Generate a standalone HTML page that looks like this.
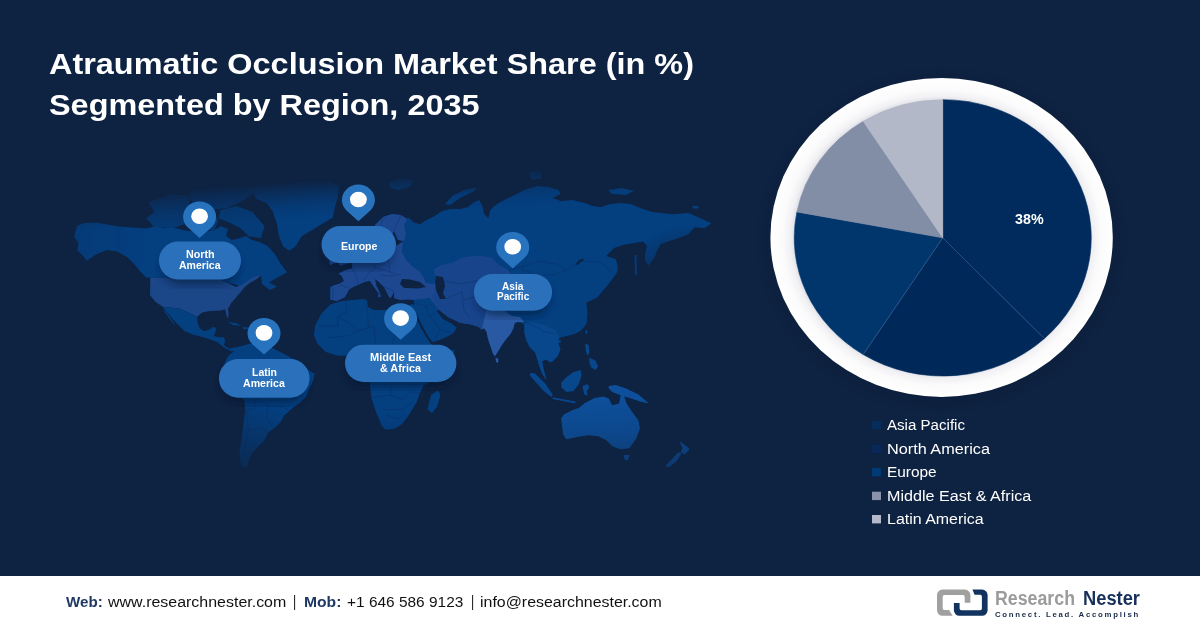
<!DOCTYPE html><html lang="en"><head><meta charset="utf-8"><title>Atraumatic Occlusion Market Share</title><style>
html,body{margin:0;padding:0;background:#0e2241}
#root{position:relative;width:1200px;height:628px;overflow:hidden;background:#0e2241;font-family:"Liberation Sans",sans-serif}
.t{position:absolute;white-space:nowrap;line-height:1;transform-origin:0 0;display:block}
svg{position:absolute;left:0;top:0}
</style></head><body><div id="root">
<svg width="1200" height="628" viewBox="0 0 1200 628">
<defs>
<linearGradient id="fade" x1="420" y1="170" x2="438.6" y2="480" gradientUnits="userSpaceOnUse">
<stop offset="0.010" stop-color="#fff" stop-opacity="0"/><stop offset="0.055" stop-color="#fff" stop-opacity="0.5"/>
<stop offset="0.095" stop-color="#fff" stop-opacity="0.85"/><stop offset="0.135" stop-color="#fff" stop-opacity="1"/>
<stop offset="0.78" stop-color="#fff" stop-opacity="1"/><stop offset="0.90" stop-color="#fff" stop-opacity="0.8"/><stop offset="1" stop-color="#fff" stop-opacity="0.5"/>
</linearGradient>
<radialGradient id="dimBL" cx="215" cy="520" r="130" gradientUnits="userSpaceOnUse"><stop offset="0" stop-color="#000" stop-opacity="0.9"/><stop offset="0.45" stop-color="#000" stop-opacity="0.6"/><stop offset="1" stop-color="#000" stop-opacity="0"/></radialGradient>
<radialGradient id="dimL" cx="40" cy="240" r="110" gradientUnits="userSpaceOnUse"><stop offset="0" stop-color="#000" stop-opacity="0.2"/><stop offset="1" stop-color="#000" stop-opacity="0"/></radialGradient>
<radialGradient id="dimR" cx="690" cy="300" r="75" gradientUnits="userSpaceOnUse"><stop offset="0" stop-color="#000" stop-opacity="0.8"/><stop offset="0.5" stop-color="#000" stop-opacity="0.6"/><stop offset="1" stop-color="#000" stop-opacity="0"/></radialGradient>
<mask id="mfade" maskUnits="userSpaceOnUse" x="0" y="0" width="1200" height="628"><rect x="0" y="170" width="1200" height="310" fill="url(#fade)"/><rect x="0" y="170" width="1200" height="310" fill="url(#dimBL)"/><rect x="0" y="170" width="1200" height="310" fill="url(#dimL)"/><rect x="0" y="170" width="1200" height="310" fill="url(#dimR)"/></mask>
<radialGradient id="ring" cx="0.5" cy="0.5" r="0.5"><stop offset="0.86" stop-color="#dfe0e6"/><stop offset="0.885" stop-color="#f1f1f4"/><stop offset="0.93" stop-color="#fbfbfc"/><stop offset="1" stop-color="#ffffff"/></radialGradient>
<filter id="psh" x="-20%" y="-30%" width="140%" height="190%"><feGaussianBlur in="SourceAlpha" stdDeviation="3.5"/><feOffset dx="0" dy="6"/><feComponentTransfer><feFuncA type="linear" slope="0.55"/></feComponentTransfer><feFlood flood-color="#050f28"/><feComposite in2="SourceAlpha" operator="in"/></filter>
<filter id="blur4"><feGaussianBlur stdDeviation="4"/></filter>
<filter id="blur6"><feGaussianBlur stdDeviation="6"/></filter>
</defs>
<g mask="url(#mfade)">
<path d="M75.8,230.1 L77.2,225.8 L84.4,222.9 L95.8,222.6 L107.3,224.6 L118.7,226.5 L136.0,227.8 L146.0,228.6 L154.0,226.6 L164.0,228.2 L172.0,227.2 L184.0,230.2 L200.0,232.2 L214.0,230.2 L221.0,226.2 L228.0,229.0 L226.0,236.0 L232.0,240.0 L240.0,238.0 L246.0,236.0 L252.0,240.0 L260.0,242.2 L268.0,246.3 L275.0,254.3 L281.0,264.3 L287.0,272.3 L276.0,278.4 L269.0,282.4 L277.0,286.4 L270.0,290.0 L262.0,284.0 L261.0,275.0 L256.0,279.0 L249.0,283.0 L240.0,286.0 L230.0,283.0 L220.0,279.0 L150.0,277.4 L146.0,277.4 L140.2,271.6 L134.5,264.5 L127.3,257.3 L117.3,251.6 L107.3,250.1 L95.8,254.4 L86.5,260.9 L84.4,257.3 L77.2,250.1 L78.6,243.0 L74.3,237.2Z" fill="#043f80"/>
<path d="M148.3,202.1 L172.4,194.1 L190.4,196.1 L188.4,210.1 L184.4,224.2 L172.4,228.2 L154.3,227.2 L146.3,218.2 L154.3,212.1Z" fill="#043f80" fill-opacity="0.8"/>
<path d="M188.4,192.1 L200.5,186.1 L220.5,180.0 L250.6,178.0 L262.7,184.0 L252.7,194.1 L240.6,202.1 L226.6,208.1 L208.5,210.1 L192.5,204.1Z" fill="#043f80" fill-opacity="0.8"/>
<path d="M220.5,210.1 L236.6,206.1 L252.7,212.1 L264.7,226.2 L260.7,238.2 L248.6,236.2 L240.6,228.2 L228.6,222.2 L218.5,218.2Z" fill="#043f80" fill-opacity="0.85"/>
<path d="M196.5,212.1 L212.5,211.1 L218.5,220.2 L214.5,230.2 L200.5,230.2 L194.5,222.2Z" fill="#043f80" fill-opacity="0.8"/>
<path d="M150.3,277.4 L150.0,295.2 L155.1,301.6 L162.7,306.7 L179.3,308.6 L188.2,312.4 L197.1,316.8 L202.2,312.4 L209.9,311.1 L221.3,310.5 L225.2,309.2 L226.3,314.9 L227.9,319.0 L228.6,314.0 L228.0,308.5 L231.5,302.8 L237.9,295.2 L244.3,287.5 L249.6,283.0 L256.7,279.0 L261.7,275.0 L253.0,277.0 L243.0,284.0 L236.0,287.0 L228.0,283.0 L220.0,279.0Z" fill="#1b4687"/>
<path d="M162.7,306.7 L179.3,308.6 L188.2,312.4 L197.1,316.8 L197.8,323.2 L199.7,328.3 L203.5,330.9 L209.9,329.6 L212.4,327.0 L216.2,327.7 L215.6,332.1 L213.7,336.0 L218.8,337.2 L223.9,337.2 L225.2,341.1 L223.9,344.9 L229.0,348.7 L234.1,347.4 L238.3,347.0 L241.7,346.1 L238.0,350.0 L231.5,351.5 L223.9,347.4 L217.5,342.3 L211.1,339.8 L203.5,337.2 L193.3,334.7 L184.4,330.9 L172.9,319.4Z" fill="#043f80"/>
<path d="M163.0,307.5 L167.8,314.3 L174.2,323.2 L175.0,325.5 L171.0,321.0 L165.0,312.5Z" fill="#043f80"/>
<path d="M228.0,322.0 L236.0,323.0 L241.0,326.0 L233.0,325.0Z" fill="#043f80"/>
<path d="M243.0,327.0 L249.0,327.5 L249.0,329.5 L243.0,329.0Z" fill="#043f80"/>
<path d="M238.3,347.0 L248.3,344.0 L260.3,342.0 L272.4,348.0 L284.4,354.0 L298.5,362.1 L308.5,370.1 L314.5,373.7 L313.5,380.1 L309.5,388.2 L306.5,396.2 L300.5,402.2 L292.4,408.2 L284.4,415.3 L280.4,422.3 L274.4,428.3 L268.4,432.3 L264.4,440.3 L258.3,446.4 L252.3,452.4 L248.3,460.4 L248.0,466.0 L244.3,468.0 L240.3,462.4 L239.3,452.4 L241.3,440.3 L243.3,424.3 L245.3,410.2 L244.3,400.2 L236.3,392.2 L226.2,376.1 L224.2,364.1 L228.2,356.1Z" fill="#043f80"/>
<path d="M252.1,190.7 L260.4,182.4 L281.0,178.3 L305.9,177.2 L330.7,180.3 L339.0,186.6 L337.9,196.9 L334.8,207.2 L332.8,217.6 L322.4,223.8 L312.1,230.0 L301.7,236.2 L295.5,246.6 L289.3,250.7 L283.1,246.6 L279.0,236.2 L276.9,223.8 L272.8,211.4 L266.6,203.1 L256.2,199.0Z" fill="#043f80"/>
<path d="M336.0,229.0 L345.0,227.0 L350.0,231.0 L344.0,235.0 L337.0,234.0Z" fill="#043f80"/>
<path d="M388.5,182.0 L400.0,178.0 L414.0,180.0 L410.0,187.0 L398.0,190.0 L390.0,188.0Z" fill="#043f80"/>
<path d="M445.2,204.1 L452.2,196.1 L464.2,190.1 L476.3,187.7 L474.3,191.1 L460.2,198.1 L450.2,205.1Z" fill="#043f80"/>
<path d="M528.0,172.0 L540.0,170.0 L542.0,178.0 L532.0,180.0Z" fill="#043f80"/>
<path d="M608.0,190.0 L622.0,188.0 L634.0,191.0 L626.0,195.0 L612.0,194.0Z" fill="#043f80"/>
<path d="M692.5,206.0 L698.5,206.0 L698.0,208.5 L693.0,208.5Z" fill="#043f80"/>
<path d="M330.4,287.0 L335.0,285.0 L339.0,284.0 L344.0,281.0 L341.8,276.0 L338.7,273.5 L344.8,270.5 L352.4,268.2 L352.0,264.0 L356.0,260.0 L362.0,256.0 L366.0,250.0 L370.0,256.0 L385.0,257.0 L392.0,254.0 L396.0,246.0 L404.0,241.0 L404.0,241.0 L398.0,240.0 L394.0,231.0 L391.0,236.0 L388.0,242.0 L385.0,248.0 L380.0,252.0 L376.0,250.0 L372.0,240.0 L370.0,232.0 L376.0,224.0 L383.0,217.0 L392.0,214.0 L401.0,215.0 L407.0,219.0 L408.0,217.2 L414.0,222.6 L420.1,224.2 L426.1,220.2 L434.1,216.2 L442.1,211.1 L450.2,209.1 L460.2,209.1 L468.2,207.1 L474.3,202.1 L479.3,200.1 L482.3,206.1 L484.3,214.2 L488.3,218.2 L490.3,210.1 L494.3,206.1 L500.3,202.1 L508.4,198.1 L516.4,194.1 L524.4,190.1 L536.5,186.1 L548.5,187.1 L558.5,190.1 L560.5,194.1 L552.5,198.1 L560.5,201.1 L572.6,200.1 L584.6,203.1 L592.7,206.1 L600.7,207.1 L610.7,204.1 L620.8,203.1 L630.8,204.1 L640.3,208.1 L652.4,212.1 L672.5,214.2 L688.5,213.1 L700.5,218.2 L711.6,223.2 L704.6,228.2 L694.5,227.2 L688.5,234.2 L678.5,238.2 L668.4,241.2 L660.4,244.3 L657.5,250.3 L654.0,258.3 L648.5,265.5 L645.0,260.3 L645.4,252.3 L647.0,246.0 L642.8,241.6 L634.0,243.0 L623.7,244.8 L614.1,248.0 L606.2,255.9 L615.7,259.1 L617.8,266.0 L617.3,271.9 L614.0,277.0 L606.6,286.6 L597.1,297.8 L586.5,302.5 L587.5,313.7 L586.5,324.0 L580.6,331.0 L573.6,334.5 L566.6,336.0 L559.6,337.7 L557.8,342.1 L560.5,349.1 L557.8,356.1 L552.6,361.3 L550.8,362.2 L545.6,359.6 L542.1,361.3 L543.8,370.1 L546.4,379.7 L545.6,378.9 L542.1,373.6 L539.4,366.6 L537.7,360.5 L535.1,352.6 L529.8,347.3 L526.3,340.3 L524.5,333.3 L524.3,324.0 L517.2,321.9 L514.6,323.2 L513.4,328.3 L510.8,333.4 L505.7,339.8 L501.9,344.9 L498.1,351.2 L494.9,356.3 L493.0,353.8 L490.4,346.1 L487.9,338.5 L486.6,332.1 L484.1,328.3 L481.5,329.6 L479.0,327.0 L471.3,324.5 L459.9,322.8 L456.1,320.8 L448.4,317.3 L438.5,309.5 L437.0,311.5 L443.3,319.3 L451.0,323.3 L456.7,327.5 L453.5,333.4 L443.3,338.5 L433.1,342.3 L425.5,342.3 L421.7,336.0 L416.6,327.0 L414.0,316.8 L414.0,303.0 L414.0,300.0 L408.0,299.5 L400.0,300.0 L394.0,298.0 L394.0,291.0 L392.0,296.0 L390.0,298.5 L387.0,293.0 L384.0,287.0 L379.0,282.0 L375.0,279.0 L376.0,285.0 L379.0,291.0 L381.0,297.0 L377.5,296.5 L379.0,294.0 L374.0,287.0 L370.0,281.0 L366.0,281.5 L362.0,283.0 L358.0,285.0 L354.0,286.5 L349.0,289.5 L345.0,297.0 L337.0,301.0 L330.4,299.5Z" fill="#043f80"/>
<path d="M559.6,337.7 L557.8,342.1 L560.5,349.1 L557.8,356.1 L552.6,361.3 L550.8,362.2 L545.6,359.6 L542.1,361.3 L543.8,370.1 L546.4,379.7 L545.6,378.9 L542.1,373.6 L539.4,366.6 L537.7,360.5 L535.1,352.6 L529.8,347.3 L526.3,340.3 L524.5,333.3 L524.3,324.0 L530.0,322.0 L545.0,325.0 L555.0,330.0Z" fill="#08478c"/>
<path d="M330.4,287.0 L335.0,285.0 L339.0,284.0 L344.0,281.0 L341.8,276.0 L338.7,273.5 L344.8,270.5 L352.4,268.2 L352.0,264.0 L356.0,260.0 L362.0,256.0 L366.0,250.0 L370.0,256.0 L385.0,257.0 L392.0,254.0 L396.0,246.0 L404.0,241.0 L402.0,252.0 L406.0,260.0 L412.0,266.0 L420.0,272.0 L424.0,278.0 L426.0,283.0 L434.0,284.0 L436.0,276.0 L433.3,269.8 L440.3,265.4 L452.5,262.8 L463.0,257.5 L477.0,255.8 L491.1,257.5 L498.1,264.5 L508.6,270.6 L512.0,280.0 L505.0,290.0 L496.0,296.0 L492.0,302.0 L486.0,311.0 L484.0,320.0 L481.5,329.6 L479.0,327.0 L471.3,324.5 L459.9,322.8 L456.1,320.8 L448.4,317.3 L438.5,309.5 L434.0,304.0 L430.0,298.0 L420.0,299.0 L414.0,300.0 L408.0,299.5 L400.0,300.0 L394.0,298.0 L394.0,291.0 L392.0,296.0 L390.0,298.5 L387.0,293.0 L384.0,287.0 L379.0,282.0 L375.0,279.0 L376.0,285.0 L379.0,291.0 L381.0,297.0 L377.5,296.5 L379.0,294.0 L374.0,287.0 L370.0,281.0 L366.0,281.5 L362.0,283.0 L358.0,285.0 L354.0,286.5 L349.0,289.5 L345.0,297.0 L337.0,301.0 L330.4,299.5Z" fill="#1d4890"/>
<path d="M436.0,276.0 L433.3,269.8 L440.3,265.4 L452.5,262.8 L463.0,257.5 L477.0,255.8 L491.1,257.5 L498.1,264.5 L508.6,270.6 L512.0,280.0 L505.0,290.0 L496.0,296.0 L492.0,302.0 L486.0,311.0 L484.0,320.0 L481.5,329.6 L479.0,327.0 L471.3,324.5 L459.9,322.8 L456.1,320.8 L448.4,317.3 L438.5,309.5 L434.0,304.0 L432.0,296.0 L436.0,290.0 L435.0,282.0Z" fill="#17448b"/>
<path d="M372.0,240.0 L370.0,232.0 L376.0,224.0 L383.0,217.0 L392.0,214.0 L401.0,215.0 L407.0,219.0 L404.0,226.0 L406.0,234.0 L404.0,241.0 L398.0,240.0 L394.0,231.0 L391.0,236.0 L388.0,242.0 L385.0,248.0 L380.0,252.0 L376.0,250.0Z" fill="#1d4890"/>
<path d="M481.5,329.6 L484.0,320.0 L486.0,311.0 L492.0,302.0 L496.0,298.0 L500.0,304.0 L505.0,311.0 L512.0,316.0 L520.0,317.0 L524.3,322.0 L517.2,321.9 L517.2,321.9 L514.6,323.2 L513.4,328.3 L510.8,333.4 L505.7,339.8 L501.9,344.9 L498.1,351.2 L494.9,356.3 L493.0,353.8 L490.4,346.1 L487.9,338.5 L486.6,332.1 L484.1,328.3 L481.5,329.6Z" fill="#2a59a3"/>
<path d="M495.5,357.5 L498.5,359.0 L498.0,363.0 L496.0,362.0Z" fill="#2a59a3"/>
<path d="M338.0,262.0 L342.0,252.0 L339.0,244.0 L344.0,246.0 L347.0,256.0 L349.0,263.0 L340.0,266.0Z" fill="#1d4890"/>
<path d="M329.0,259.0 L335.0,256.0 L336.0,263.0 L330.0,265.0Z" fill="#1d4890"/>
<path d="M330.6,304.3 L342.0,301.0 L352.0,300.0 L363.0,299.0 L367.0,300.0 L368.0,307.0 L374.0,310.0 L384.0,310.0 L392.7,309.1 L404.7,308.0 L413.0,303.5 L415.4,312.7 L418.0,319.0 L422.0,327.0 L427.0,336.0 L433.4,344.0 L438.0,350.0 L445.0,351.0 L454.9,349.7 L452.5,356.9 L442.9,368.9 L431.0,380.8 L423.8,385.6 L420.2,392.7 L416.6,402.3 L409.5,414.3 L402.3,423.8 L395.1,428.6 L385.6,429.8 L382.0,426.2 L376.0,411.9 L371.2,397.5 L370.0,385.6 L370.0,371.2 L368.9,361.7 L361.7,359.3 L347.3,355.7 L337.8,355.7 L325.8,352.1 L317.5,343.8 L313.9,335.4 L315.1,325.8 L321.1,313.9Z" fill="#043f80"/>
<path d="M427.4,409.5 L431.0,395.1 L438.1,390.3 L440.5,395.1 L437.0,407.0 L432.2,413.0Z" fill="#043f80"/>
<path d="M530.7,372.7 L535.1,373.6 L545.6,384.1 L552.6,394.6 L551.7,397.3 L543.8,391.1 L535.1,381.5 L529.8,375.4Z" fill="#08478c"/>
<path d="M552.6,397.3 L575.4,401.6 L575.4,403.4 L552.6,399.0Z" fill="#08478c"/>
<path d="M561.3,382.4 L566.6,377.1 L573.6,371.9 L580.6,370.1 L581.5,375.4 L578.9,384.1 L573.6,391.1 L566.6,392.0 L561.3,387.6Z" fill="#08478c"/>
<path d="M582.4,385.9 L587.6,384.1 L589.4,387.6 L586.8,391.1 L587.6,395.5 L584.1,394.6 L583.2,389.4Z" fill="#08478c"/>
<path d="M585.0,343.8 L588.5,344.7 L589.4,352.6 L587.6,356.1 L585.9,350.8Z" fill="#08478c"/>
<path d="M589.4,357.8 L595.5,360.5 L598.1,366.6 L595.5,370.1 L591.1,367.5 L589.4,362.2Z" fill="#08478c"/>
<path d="M585.9,329.8 L587.6,330.7 L586.8,334.2 L585.3,333.3Z" fill="#08478c"/>
<path d="M558.0,340.0 L561.0,340.5 L560.5,343.0 L558.0,342.5Z" fill="#08478c"/>
<path d="M608.7,385.9 L615.7,385.0 L626.2,388.5 L638.5,394.6 L649.0,403.4 L640.2,401.6 L629.7,398.1 L620.9,395.5 L612.2,392.0 L608.7,388.5Z" fill="#0d4f9a"/>
<path d="M634.5,255.0 L636.5,255.0 L637.0,275.0 L635.0,275.0Z" fill="#043f80"/>
<path d="M561.1,418.2 L563.1,434.3 L566.2,439.3 L576.2,437.3 L588.2,435.3 L598.3,436.3 L606.3,440.3 L612.3,446.3 L620.3,449.3 L629.4,448.3 L636.4,438.3 L640.0,428.3 L638.4,420.2 L632.4,412.2 L626.4,403.2 L622.7,391.5 L620.5,396.0 L619.2,403.4 L612.2,405.2 L608.7,398.5 L603.4,396.4 L594.6,398.1 L584.1,403.4 L578.9,408.0 L572.2,410.2 L564.2,414.2Z" fill="#0d4f9a"/>
<path d="M623.5,455.0 L629.5,455.0 L628.0,460.5 L624.5,459.5Z" fill="#0d4f9a"/>
<path d="M679.5,441.3 L686.6,446.3 L689.6,449.3 L684.6,454.4 L680.5,452.3 L682.6,448.3Z" fill="#0d4f9a"/>
<path d="M681.5,453.4 L676.5,461.4 L668.5,467.4 L665.5,465.4 L672.5,458.4 L678.5,452.3Z" fill="#0d4f9a"/>
<path d="M366.5,304.3 L368.9,328.2" fill="none" stroke="#0a2a5c" stroke-opacity="0.55" stroke-width="0.7"/>
<path d="M392.7,310.3 L392.7,329.4 L414.3,329.4" fill="none" stroke="#0a2a5c" stroke-opacity="0.55" stroke-width="0.7"/>
<path d="M337.8,316.3 L359.3,330.6 L373.6,325.8 L376.0,345.0" fill="none" stroke="#0a2a5c" stroke-opacity="0.55" stroke-width="0.7"/>
<path d="M395.1,330.6 L392.7,345.0" fill="none" stroke="#0a2a5c" stroke-opacity="0.55" stroke-width="0.7"/>
<path d="M318.7,325.8 L337.8,325.8 L337.8,316.3" fill="none" stroke="#0a2a5c" stroke-opacity="0.55" stroke-width="0.7"/>
<path d="M328.2,337.8 L349.7,335.4 L359.3,330.6" fill="none" stroke="#0a2a5c" stroke-opacity="0.55" stroke-width="0.7"/>
<path d="M345.0,300.8 L347.0,312.0 L337.8,316.3" fill="none" stroke="#0a2a5c" stroke-opacity="0.55" stroke-width="0.7"/>
<path d="M371.2,397.5 L390.4,395.1 L402.3,399.9" fill="none" stroke="#0a2a5c" stroke-opacity="0.55" stroke-width="0.7"/>
<path d="M383.2,409.5 L402.3,409.5 L411.9,402.3" fill="none" stroke="#0a2a5c" stroke-opacity="0.55" stroke-width="0.7"/>
<path d="M385.6,414.3 L397.5,419.0 L404.7,414.3" fill="none" stroke="#0a2a5c" stroke-opacity="0.55" stroke-width="0.7"/>
<path d="M390.4,395.1 L392.0,386.0" fill="none" stroke="#0a2a5c" stroke-opacity="0.55" stroke-width="0.7"/>
<path d="M402.3,399.9 L410.0,392.0 L420.2,392.7" fill="none" stroke="#0a2a5c" stroke-opacity="0.55" stroke-width="0.7"/>
<path d="M256.3,398.2 L268.4,406.2 L280.4,406.2 L288.4,410.2" fill="none" stroke="#0a2a5c" stroke-opacity="0.55" stroke-width="0.7"/>
<path d="M246.3,410.2 L248.3,430.3 L244.3,452.4" fill="none" stroke="#0a2a5c" stroke-opacity="0.55" stroke-width="0.7"/>
<path d="M256.3,398.2 L254.3,408.2 L246.3,410.2" fill="none" stroke="#0a2a5c" stroke-opacity="0.55" stroke-width="0.7"/>
<path d="M248.3,430.3 L262.0,428.0 L268.4,432.3" fill="none" stroke="#0a2a5c" stroke-opacity="0.55" stroke-width="0.7"/>
<path d="M268.4,406.2 L266.0,418.0 L274.4,428.3" fill="none" stroke="#0a2a5c" stroke-opacity="0.55" stroke-width="0.7"/>
<path d="M118.0,227.0 L118.0,248.0" fill="none" stroke="#0a2a5c" stroke-opacity="0.55" stroke-width="0.7"/>
<path d="M522.6,266.3 L540.1,261.0 L557.6,264.5 L566.3,269.8 L554.1,275.0 L536.6,275.0 L522.6,269.8 L522.6,266.3" fill="none" stroke="#0a2a5c" stroke-opacity="0.55" stroke-width="0.7"/>
<path d="M566.3,269.8 L580.0,261.0 L600.0,262.0 L612.0,272.0" fill="none" stroke="#0a2a5c" stroke-opacity="0.55" stroke-width="0.7"/>
<path d="M524.3,322.0 L535.0,326.0 L545.0,332.0 L555.0,334.0" fill="none" stroke="#0a2a5c" stroke-opacity="0.55" stroke-width="0.7"/>
<path d="M508.6,270.6 L522.6,266.3" fill="none" stroke="#0a2a5c" stroke-opacity="0.55" stroke-width="0.7"/>
<path d="M440.0,280.0 L460.0,284.0 L480.0,280.0 L500.0,284.0" fill="none" stroke="#0a2a5c" stroke-opacity="0.55" stroke-width="0.7"/>
<path d="M462.0,292.0 L464.0,310.0 L470.0,318.0" fill="none" stroke="#0a2a5c" stroke-opacity="0.55" stroke-width="0.7"/>
<path d="M464.0,300.0 L478.0,296.0 L488.0,290.0" fill="none" stroke="#0a2a5c" stroke-opacity="0.55" stroke-width="0.7"/>
<path d="M446.0,299.0 L452.0,296.0 L462.0,292.0" fill="none" stroke="#0a2a5c" stroke-opacity="0.55" stroke-width="0.7"/>
<path d="M352.0,268.0 L356.0,276.0 L358.0,285.0" fill="none" stroke="#0a2a5c" stroke-opacity="0.55" stroke-width="0.7"/>
<path d="M374.0,257.0 L375.0,268.0 L370.0,272.0 L363.0,281.0" fill="none" stroke="#0a2a5c" stroke-opacity="0.55" stroke-width="0.7"/>
<path d="M388.0,258.0 L390.0,272.0 L396.0,274.0" fill="none" stroke="#0a2a5c" stroke-opacity="0.55" stroke-width="0.7"/>
<path d="M375.0,268.0 L384.0,270.0 L390.0,272.0" fill="none" stroke="#0a2a5c" stroke-opacity="0.55" stroke-width="0.7"/>
<path d="M380.0,275.0 L392.0,276.0 L402.0,274.0" fill="none" stroke="#0a2a5c" stroke-opacity="0.55" stroke-width="0.7"/>
<path d="M333.0,287.0 L333.0,299.0" fill="none" stroke="#0a2a5c" stroke-opacity="0.55" stroke-width="0.7"/>
<path d="M340.0,285.0 L349.0,288.0" fill="none" stroke="#0a2a5c" stroke-opacity="0.55" stroke-width="0.7"/>
<path d="M384.0,287.0 L394.0,291.0" fill="none" stroke="#0a2a5c" stroke-opacity="0.55" stroke-width="0.7"/>
<path d="M404.0,241.0 L402.0,252.0" fill="none" stroke="#0a2a5c" stroke-opacity="0.55" stroke-width="0.7"/>
<path d="M383.0,217.0 L380.0,232.0 L385.0,248.0" fill="none" stroke="#0a2a5c" stroke-opacity="0.55" stroke-width="0.7"/>
<path d="M394.0,231.0 L398.0,222.0 L401.0,215.0" fill="none" stroke="#0a2a5c" stroke-opacity="0.55" stroke-width="0.7"/>
<path d="M414.0,303.0 L425.0,306.0 L434.0,304.0" fill="none" stroke="#0a2a5c" stroke-opacity="0.55" stroke-width="0.7"/>
<path d="M425.0,306.0 L430.0,316.0 L437.0,311.5" fill="none" stroke="#0a2a5c" stroke-opacity="0.55" stroke-width="0.7"/>
<path d="M430.0,316.0 L440.0,330.0 L453.5,333.4" fill="none" stroke="#0a2a5c" stroke-opacity="0.55" stroke-width="0.7"/>
<path d="M440.0,330.0 L433.1,342.3" fill="none" stroke="#0a2a5c" stroke-opacity="0.55" stroke-width="0.7"/>
<path d="M576.0,264.0 L579.0,260.0 L583.0,258.5 L584.0,260.0 L580.0,262.5 L577.5,265.5Z" fill="#0e2241"/>
<path d="M402.0,279.0 L410.0,279.5 L420.0,282.0 L426.0,287.0 L418.0,288.5 L404.0,288.0 L400.0,284.0Z" fill="#0e2241"/>
<path d="M436.0,276.0 L443.0,277.0 L445.0,286.0 L443.0,293.0 L446.0,299.0 L440.0,299.0 L436.0,290.0 L435.0,282.0Z" fill="#0e2241"/>
<path d="M414.8,313.0 L416.8,313.5 L419.5,320.0 L423.5,328.0 L428.5,337.0 L434.5,345.0 L439.0,349.5 L436.0,350.0 L431.0,344.0 L425.0,335.0 L420.5,327.0 L417.0,320.0Z" fill="#0e2241"/>
</g>
<rect x="161.9" y="248.6" width="76.1" height="35.900000000000006" rx="18.950000000000003" fill="#061230" opacity="0.55" filter="url(#blur4)"/>
<rect x="324.5" y="233.1" width="68.5" height="35.00000000000003" rx="18.500000000000014" fill="#061230" opacity="0.55" filter="url(#blur4)"/>
<rect x="476.9" y="281" width="72.20000000000005" height="34.69999999999999" rx="18.349999999999994" fill="#061230" opacity="0.55" filter="url(#blur4)"/>
<rect x="221.9" y="366" width="84.70000000000002" height="36.69999999999999" rx="19.349999999999994" fill="#061230" opacity="0.55" filter="url(#blur4)"/>
<rect x="348" y="351.7" width="105.39999999999998" height="35.30000000000001" rx="18.650000000000006" fill="#061230" opacity="0.55" filter="url(#blur4)"/>
<rect x="158.9" y="241.6" width="82.1" height="37.900000000000006" rx="18.950000000000003" ry="18.950000000000003" fill="#2a70ba"/>
<rect x="321.5" y="226.1" width="74.5" height="37.00000000000003" rx="18.500000000000014" ry="18.500000000000014" fill="#2a70ba"/>
<rect x="473.9" y="274" width="78.20000000000005" height="36.69999999999999" rx="18.349999999999994" ry="18.349999999999994" fill="#2a70ba"/>
<rect x="218.9" y="359" width="90.70000000000002" height="38.69999999999999" rx="19.349999999999994" ry="19.349999999999994" fill="#2a70ba"/>
<rect x="345" y="344.7" width="111.39999999999998" height="37.30000000000001" rx="18.650000000000006" ry="18.650000000000006" fill="#2a70ba"/>
<g transform="translate(199.6,201.4) scale(1,0.9304) translate(0,16.5)"><path d="M-11.38,11.94 A16.5,16.5 0 1 1 11.38,11.94 L0,22.8Z" fill="#2873be"/><circle r="8.4" cx="0" cy="-0.5" fill="#fff"/></g>
<g transform="translate(358.4,184.6) scale(1,0.9304) translate(0,16.5)"><path d="M-11.38,11.94 A16.5,16.5 0 1 1 11.38,11.94 L0,22.8Z" fill="#2873be"/><circle r="8.4" cx="0" cy="-0.5" fill="#fff"/></g>
<g transform="translate(512.7,231.9) scale(1,0.9304) translate(0,16.5)"><path d="M-11.38,11.94 A16.5,16.5 0 1 1 11.38,11.94 L0,22.8Z" fill="#2873be"/><circle r="8.4" cx="0" cy="-0.5" fill="#fff"/></g>
<g transform="translate(264,318) scale(1,0.9304) translate(0,16.5)"><path d="M-11.38,11.94 A16.5,16.5 0 1 1 11.38,11.94 L0,22.8Z" fill="#2873be"/><circle r="8.4" cx="0" cy="-0.5" fill="#fff"/></g>
<g transform="translate(400.6,303.2) scale(1,0.9304) translate(0,16.5)"><path d="M-11.38,11.94 A16.5,16.5 0 1 1 11.38,11.94 L0,22.8Z" fill="#2873be"/><circle r="8.4" cx="0" cy="-0.5" fill="#fff"/></g>
<ellipse cx="941.6" cy="240" rx="176" ry="164" fill="#050f28" opacity="0.1" filter="url(#blur6)"/>
<ellipse cx="941.6" cy="237.4" rx="171.2" ry="159.5" fill="url(#ring)"/>
<g transform="translate(942.75,237.85) scale(1,0.9304)">
<path d="M0,0 L0.00,-148.50 A148.5,148.5 0 0 1 101.66,108.25Z" fill="#002b5c" stroke="#002b5c" stroke-width="0.6"/>
<path d="M0,0 L101.66,108.25 A148.5,148.5 0 0 1 -79.57,125.38Z" fill="#00295a" stroke="#00295a" stroke-width="0.6"/>
<path d="M0,0 L-79.57,125.38 A148.5,148.5 0 0 1 -145.87,-27.83Z" fill="#00366c" stroke="#00366c" stroke-width="0.6"/>
<path d="M0,0 L-145.87,-27.83 A148.5,148.5 0 0 1 -79.57,-125.38Z" fill="#828da6" stroke="#828da6" stroke-width="0.6"/>
<path d="M0,0 L-79.57,-125.38 A148.5,148.5 0 0 1 -0.00,-148.50Z" fill="#b2b8c7" stroke="#b2b8c7" stroke-width="0.6"/>
<line x1="0" y1="0" x2="101.66" y2="108.25" stroke="#6f8fc0" stroke-opacity="0.55" stroke-width="0.6"/>
<line x1="0" y1="0" x2="-79.57" y2="125.38" stroke="#6f8fc0" stroke-opacity="0.55" stroke-width="0.6"/>
</g>
<rect x="872" y="420.8" width="9" height="8.4" fill="#062c5c"/>
<rect x="872" y="444.7" width="9" height="8.4" fill="#08285a"/>
<rect x="872" y="468.0" width="9" height="8.4" fill="#003a75"/>
<rect x="872" y="491.7" width="9" height="8.4" fill="#8a92aa"/>
<rect x="872" y="515.0" width="9" height="8.4" fill="#b4bacb"/>
<rect x="0" y="576" width="1200" height="52" fill="#fff"/>
<g id="logo">
<path d="M970.4,602.7 L964.7,602.7 L964.7,596.9 A1.8,1.8 0 0 0 962.9,595.1 L944.5,595.1 A1.8,1.8 0 0 0 942.7,596.9 L942.7,608.2 A1.8,1.8 0 0 0 944.5,610 L949.1,610 L952.6,615.8 L942.5,615.8 A5.5,5.5 0 0 1 937,610.3 L937,595.1 A5.5,5.5 0 0 1 942.5,589.6 L964.9,589.6 A5.5,5.5 0 0 1 970.4,595.1 Z" fill="#a0a0a0"/>
<path d="M972.4,589.6 L982.1,589.6 A5.5,5.5 0 0 1 987.6,595.1 L987.6,610.3 A5.5,5.5 0 0 1 982.1,615.8 L959.4,615.8 A5.5,5.5 0 0 1 953.9,610.3 L953.9,603 L959.6,603 L959.6,608.5 A1.8,1.8 0 0 0 961.4,610.3 L980.1,610.3 A1.8,1.8 0 0 0 981.9,608.5 L981.9,596.5 A1.8,1.8 0 0 0 980.1,594.7 L974.6,594.7 Z" fill="#12325f"/>
</g>
</svg>
<span class="t" style="left:49.0px;top:48.76px;font-size:30.17px;font-weight:700;color:#fff;transform:scaleX(1.0751);">Atraumatic Occlusion Market Share (in %)</span>
<span class="t" style="left:49.3px;top:89.96px;font-size:30.17px;font-weight:700;color:#fff;transform:scaleX(1.0748);">Segmented by Region, 2035</span>
<span class="t" style="left:185.7px;top:250.17px;font-size:10.20px;font-weight:700;color:#fff;transform:scaleX(1.0562);">North</span>
<span class="t" style="left:179.2px;top:260.87px;font-size:10.20px;font-weight:700;color:#fff;transform:scaleX(1.0319);">America</span>
<span class="t" style="left:340.6px;top:241.97px;font-size:10.20px;font-weight:700;color:#fff;transform:scaleX(1.0396);">Europe</span>
<span class="t" style="left:502.2px;top:281.67px;font-size:10.20px;font-weight:700;color:#fff;transform:scaleX(0.9985);">Asia</span>
<span class="t" style="left:496.9px;top:292.27px;font-size:10.20px;font-weight:700;color:#fff;transform:scaleX(0.9799);">Pacific</span>
<span class="t" style="left:251.7px;top:368.27px;font-size:10.20px;font-weight:700;color:#fff;transform:scaleX(1.0270);">Latin</span>
<span class="t" style="left:243.3px;top:378.67px;font-size:10.20px;font-weight:700;color:#fff;transform:scaleX(1.0393);">America</span>
<span class="t" style="left:370.1px;top:352.97px;font-size:10.20px;font-weight:700;color:#fff;transform:scaleX(1.0811);">Middle East</span>
<span class="t" style="left:380.2px;top:363.77px;font-size:10.20px;font-weight:700;color:#fff;transform:scaleX(1.0572);">&amp; Africa</span>
<span class="t" style="left:1014.8px;top:211.74px;font-size:14.25px;font-weight:700;color:#fff;transform:scaleX(1.0024);">38%</span>
<span class="t" style="left:886.5px;top:417.62px;font-size:14.39px;font-weight:400;color:#fff;transform:scaleX(1.0498);">Asia Pacific</span>
<span class="t" style="left:886.5px;top:441.52px;font-size:14.39px;font-weight:400;color:#fff;transform:scaleX(1.1309);">North America</span>
<span class="t" style="left:886.5px;top:464.82px;font-size:14.39px;font-weight:400;color:#fff;transform:scaleX(1.0721);">Europe</span>
<span class="t" style="left:886.5px;top:488.52px;font-size:14.39px;font-weight:400;color:#fff;transform:scaleX(1.1217);">Middle East &amp; Africa</span>
<span class="t" style="left:886.5px;top:511.82px;font-size:14.39px;font-weight:400;color:#fff;transform:scaleX(1.1103);">Latin America</span>
<span class="t" style="left:66.0px;top:594.99px;font-size:14.66px;font-weight:700;color:#1f3864;transform:scaleX(1.0320);">Web:</span>
<span class="t" style="left:107.7px;top:594.99px;font-size:14.66px;font-weight:400;color:#111;transform:scaleX(1.0890);">www.researchnester.com</span>
<span class="t" style="left:293.4px;top:593.71px;font-size:16.76px;font-weight:400;color:#111;transform:scaleX(0.7341);">|</span>
<span class="t" style="left:304.3px;top:594.99px;font-size:14.66px;font-weight:700;color:#1f3864;transform:scaleX(1.0686);">Mob:</span>
<span class="t" style="left:346.7px;top:594.99px;font-size:14.66px;font-weight:400;color:#111;transform:scaleX(1.0531);">+1 646 586 9123</span>
<span class="t" style="left:471.2px;top:593.71px;font-size:16.76px;font-weight:400;color:#111;transform:scaleX(0.7341);">|</span>
<span class="t" style="left:480.0px;top:594.99px;font-size:14.66px;font-weight:400;color:#111;transform:scaleX(1.0866);">info@researchnester.com</span>
<span class="t" style="left:995.0px;top:587.74px;font-size:20.39px;font-weight:700;color:#9b9b9b;transform:scaleX(0.8719);">Research</span>
<span class="t" style="left:1083.0px;top:587.74px;font-size:20.39px;font-weight:700;color:#17305a;transform:scaleX(0.8985);">Nester</span>
<span class="t" style="left:995.0px;top:610.65px;font-size:7.26px;font-weight:700;color:#1a2b4a;letter-spacing:1.6px;transform:scaleX(1.0756);">Connect. Lead. Accomplish</span>
</div></body></html>
